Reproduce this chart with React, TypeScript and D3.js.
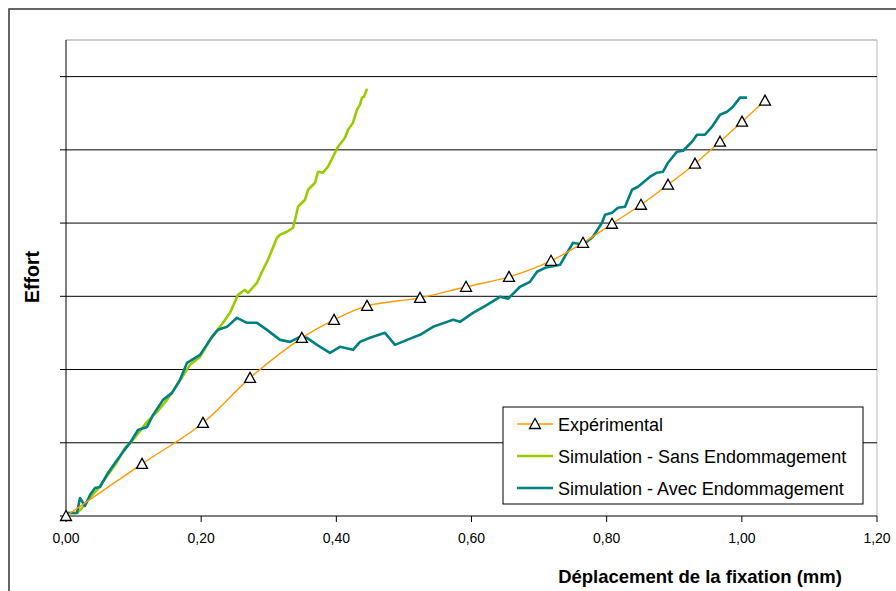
import React from "react";
import * as d3 from "d3";

// ---- data ----
const expX = [0, 0.1125, 0.2027, 0.2723, 0.349, 0.3966, 0.4454, 0.5238, 0.5919, 0.6555, 0.7177, 0.765, 0.8079, 0.8508, 0.8908, 0.9307, 0.9677, 1.0003, 1.0343];
const expY = [0, 0.711, 1.271, 1.886, 2.433, 2.679, 2.87, 2.979, 3.13, 3.266, 3.485, 3.731, 3.991, 4.25, 4.524, 4.811, 5.111, 5.385, 5.672];

const sansX = [0, 0.0163, 0.0237, 0.0326, 0.0459, 0.0651, 0.0755, 0.0873, 0.0991, 0.1199, 0.1347, 0.1495, 0.1642, 0.1835, 0.1983, 0.216, 0.2323, 0.2427, 0.2545, 0.2649, 0.2693, 0.2826, 0.29, 0.2989, 0.3122, 0.3167, 0.327, 0.3359, 0.3389, 0.3433, 0.3537, 0.3581, 0.3685, 0.3729, 0.3803, 0.3877, 0.3951, 0.4025, 0.4128, 0.4173, 0.4247, 0.4306, 0.435, 0.438, 0.441, 0.4454];
const sansY = [0.041, 0.041, 0.109, 0.219, 0.355, 0.601, 0.738, 0.929, 1.039, 1.285, 1.421, 1.586, 1.79, 2.064, 2.173, 2.446, 2.638, 2.774, 3.02, 3.089, 3.048, 3.184, 3.335, 3.499, 3.799, 3.84, 3.881, 3.936, 4.045, 4.223, 4.319, 4.455, 4.551, 4.701, 4.688, 4.77, 4.906, 5.043, 5.166, 5.275, 5.371, 5.549, 5.617, 5.713, 5.726, 5.836];

const avecX = [0, 0.0163, 0.0207, 0.0281, 0.0355, 0.0429, 0.0503, 0.0621, 0.0725, 0.0843, 0.0947, 0.1065, 0.1199, 0.1288, 0.1435, 0.1569, 0.1687, 0.179, 0.1983, 0.216, 0.2249, 0.2382, 0.253, 0.2678, 0.2826, 0.2974, 0.3167, 0.3314, 0.3462, 0.3566, 0.3714, 0.3906, 0.4054, 0.4247, 0.435, 0.4498, 0.472, 0.4868, 0.5046, 0.5238, 0.5431, 0.5638, 0.5727, 0.583, 0.6022, 0.623, 0.6422, 0.654, 0.6718, 0.6866, 0.697, 0.7088, 0.731, 0.7413, 0.7502, 0.765, 0.7798, 0.7931, 0.7976, 0.8079, 0.8168, 0.8272, 0.8375, 0.8464, 0.8642, 0.8745, 0.8834, 0.8908, 0.9041, 0.913, 0.9263, 0.9337, 0.9456, 0.9559, 0.9677, 0.9781, 0.987, 0.9973, 1.0077];
const avecY = [0.041, 0.041, 0.246, 0.137, 0.287, 0.383, 0.396, 0.588, 0.724, 0.875, 0.998, 1.175, 1.216, 1.38, 1.586, 1.681, 1.859, 2.091, 2.2, 2.446, 2.542, 2.583, 2.706, 2.638, 2.638, 2.542, 2.405, 2.378, 2.446, 2.433, 2.337, 2.228, 2.31, 2.269, 2.378, 2.433, 2.501, 2.337, 2.405, 2.474, 2.583, 2.651, 2.679, 2.651, 2.774, 2.884, 2.993, 2.966, 3.13, 3.198, 3.335, 3.389, 3.43, 3.594, 3.731, 3.704, 3.813, 4.004, 4.114, 4.141, 4.209, 4.223, 4.455, 4.496, 4.633, 4.688, 4.701, 4.824, 4.975, 4.988, 5.111, 5.207, 5.207, 5.316, 5.48, 5.521, 5.59, 5.713, 5.713];

const xTicks = [0, 0.2, 0.4, 0.6, 0.8, 1.0, 1.2];
const yTicks = [0, 1, 2, 3, 4, 5, 6];
const legendLabels = ["Expérimental", "Simulation - Sans Endommagement", "Simulation - Avec Endommagement"];

const COL_EXP = "#FF9900";
const COL_SANS = "#99CC00";
const COL_AVEC = "#008080";

export default function App() {
  const W = 896, H = 591;
  const left = 66, right = 877, top = 40, bottom = 516;
  const x = d3.scaleLinear().domain([0, 1.2]).range([left, right]);
  const y = d3.scaleLinear().domain([0, 6.5]).range([bottom, top]);
  const font = "Arial, 'Liberation Sans', sans-serif";

  const zip = (xs: number[], ys: number[]) => xs.map((v, i) => [v, ys[i]] as [number, number]);
  const lin = d3.line<[number, number]>().x(d => x(d[0])).y(d => y(d[1]));
  const smooth = d3.line<[number, number]>().x(d => x(d[0])).y(d => y(d[1])).curve(d3.curveCatmullRom.alpha(0.5));
  const expPts = zip(expX, expY);
  const tri = (cx: number, cy: number) => `M${cx},${cy - 5.5}L${cx + 5.5},${cy + 4.5}L${cx - 5.5},${cy + 4.5}Z`;

  const lx = 503, ly = 407, lw = 360, lh = 97;
  const rows = [424, 456, 488];

  return (
    <svg width={W} height={H} style={{ position: "absolute", left: 0, top: 0, background: "#fff" }} fontFamily={font}>
      <rect x={9} y={9} width={W} height={H} fill="#fff" stroke="#333" strokeWidth={1.5} />
      {/* plot border */}
      <line x1={left} x2={right} y1={top} y2={top} stroke="#999" strokeWidth={1} />
      <line x1={right} x2={right} y1={top} y2={bottom} stroke="#bbb" strokeWidth={1} />
      {/* grid + y ticks */}
      {yTicks.map(t => (
        <g key={t}>
          <line x1={left - 6} x2={right} y1={y(t)} y2={y(t)} stroke="#000" strokeWidth={1} />
        </g>
      ))}
      <line x1={left} x2={left} y1={top} y2={bottom} stroke="#000" strokeWidth={1} />
      {xTicks.map(t => (
        <g key={t}>
          <line x1={x(t)} x2={x(t)} y1={bottom} y2={bottom + 6} stroke="#000" strokeWidth={1} />
          <text x={x(t)} y={543} textAnchor="middle" fontSize={14} fill="#000">
            {d3.format(".2f")(t).replace(".", ",")}
          </text>
        </g>
      ))}
      {/* series */}
      <path d={lin(zip(sansX, sansY)) || ""} fill="none" stroke={COL_SANS} strokeWidth={2.6} strokeLinejoin="round" />
      <path d={lin(zip(avecX, avecY)) || ""} fill="none" stroke={COL_AVEC} strokeWidth={2.6} strokeLinejoin="round" />
      <path d={smooth(expPts) || ""} fill="none" stroke={COL_EXP} strokeWidth={1.4} />
      {expPts.map((p, i) => (
        <path key={i} d={tri(x(p[0]), y(p[1]))} fill="#fff" stroke="#000" strokeWidth={1.3} />
      ))}
      {/* legend */}
      <rect x={lx} y={ly} width={lw} height={lh} fill="#fff" stroke="#000" strokeWidth={1} />
      <line x1={517} x2={553} y1={rows[0]} y2={rows[0]} stroke={COL_EXP} strokeWidth={1.4} />
      <path d={tri(535, rows[0])} fill="#fff" stroke="#000" strokeWidth={1.3} />
      <line x1={517} x2={553} y1={rows[1]} y2={rows[1]} stroke={COL_SANS} strokeWidth={2.6} />
      <line x1={517} x2={553} y1={rows[2]} y2={rows[2]} stroke={COL_AVEC} strokeWidth={2.6} />
      {legendLabels.map((l, i) => (
        <text key={l} x={558} y={rows[i] + 6.5} fontSize={18} fill="#000">{l}</text>
      ))}
      {/* axis titles */}
      <text x={700} y={583} textAnchor="middle" fontSize={18.5} fontWeight="bold" fill="#000">
        Déplacement de la fixation (mm)
      </text>
      <text transform={`translate(39,277) rotate(-90)`} textAnchor="middle" fontSize={19.5} fontWeight="bold" fill="#000">
        Effort
      </text>
    </svg>
  );
}
